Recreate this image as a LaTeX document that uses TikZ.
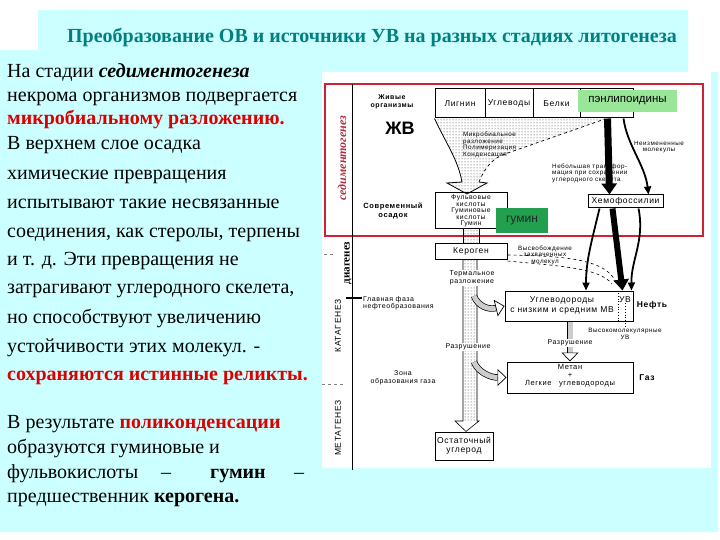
\documentclass[tikz,border=0pt]{standalone}
\usepackage{fontspec}
\setmainfont{Liberation Serif}
\setsansfont{Liberation Sans}
\newfontfamily\dgfont[LetterSpace=8]{Liberation Sans}
\usetikzlibrary{arrows.meta,patterns,calc}
\definecolor{slidecyan}{HTML}{CCFFFF}
\definecolor{titleteal}{HTML}{008080}
\definecolor{hotred}{HTML}{DD0000}
\definecolor{frame}{HTML}{CC2233}
\definecolor{sedred}{HTML}{B03040}
\definecolor{palegreen}{HTML}{99E699}
\definecolor{deepgreen}{HTML}{22A050}
\tikzset{
  body/.style={anchor=base west, inner sep=0pt, font=\fontsize{20}{22}\selectfont},
  cell/.style={draw, line width=1pt, inner sep=0pt, align=center, font=\dgfont\fontsize{8.5}{9}\selectfont},
  lbl/.style={inner sep=0pt, align=center, font=\dgfont\fontsize{7}{7.5}\selectfont},
  tiny/.style={inner sep=0pt, align=center, font=\dgfont\fontsize{6.3}{6.6}\selectfont},
  stage/.style={inner sep=0.5pt, rotate=90, font=\dgfont\fontsize{8.5}{9}\selectfont},
  stipple/.style={pattern=dots, pattern color=black!80},
  hollow/.style={double=black!20, double distance=5pt, line width=0.7pt,
    -{Triangle[open, width=17pt, length=9pt, line width=0.7pt]}},
  bigtip/.style={-{Triangle[width=15pt, length=11pt]}},
  thin/.style={line width=1.8pt, -{Triangle[width=7pt, length=8pt]}}
}
\begin{document}
\begin{tikzpicture}[x=1pt, y=-1pt]
  \useasboundingbox (0,0) rectangle (720,540);
  \fill[slidecyan] (38,10) -- (688,10) -- (688,72) -- (718,72) -- (718,532)
    -- (0,532) -- (0,50) -- (38,50) -- cycle;
  \fill[white] (322,72) rectangle (711,468);

  \node[font=\bfseries\fontsize{20}{22}\selectfont, text=titleteal] (title) at (372,37)
    {Преобразование ОВ и источники УВ на разных стадиях литогенеза};

  \node[body] (t1) at (7,78) {На стадии \textbf{\textit{седиментогенеза}}};
  \node[body] (t2) at (7,102) {некрома организмов подвергается};
  \node[body, text=hotred] (t3) at (7,125) {\textbf{микробиальному разложению.}};
  \node[body] (t4) at (7,150) {В верхнем слое осадка};
  \node[body] (t5) at (7,180) {химические превращения};
  \node[body] (t6) at (7,208) {испытывают такие несвязанные};
  \node[body] (t7) at (7,237) {соединения, как стеролы, терпены};
  \node[body] (t8) at (7,265) {и т. д. Эти превращения не};
  \node[body] (t9) at (7,293) {затрагивают углеродного скелета,};
  \node[body] (t10) at (7,323) {но способствуют увеличению};
  \node[body] (t11) at (7,352) {устойчивости этих молекул. -};
  \node[body, text=hotred] (t12) at (7,380) {\textbf{сохраняются истинные реликты.}};
  \node[body] (b1) at (7,428) {В результате \textcolor{hotred}{\textbf{поликонденсации}}};
  \node[body] (b2) at (7,453) {образуются гуминовые и};
  \node[body] (b3) at (7,478) {фульвокислоты};
  \node[body] (b3a) at (161,478) {–};
  \node[body] (b3b) at (210,478) {\textbf{гумин}};
  \node[body] (b3c) at (294,478) {–};
  \node[body] (b4) at (7,502) {предшественник \textbf{керогена.}};

  \draw[frame, line width=2.5pt] (325,84) rectangle (703,236);
  \draw[line width=1pt] (352,84) -- (352,470);
  \draw[line width=1.6pt] (346,298) -- (362,298);
  \draw[gray, dashed] (324,254) -- (333,254);
  \draw[gray, dashed] (322,384) -- (343,384);
  \node[rotate=90, inner sep=0pt, text=sedred, font=\bfseries\itshape\fontsize{12}{13}\selectfont] (sed) at (342,158) {седиментогенез};
  \node[rotate=90, inner sep=0.5pt, fill=white, font=\bfseries\fontsize{11}{12}\selectfont] (dia) at (348,263) {диагенез};
  \node[stage] (kat) at (338,326) {КАТАГЕНЕЗ};
  \node[stage] (met) at (338,428) {МЕТАГЕНЕЗ};

  \node[cell, minimum width=50pt, minimum height=29pt] (lig) at (460,103.5) {Лигнин};
  \node[cell, minimum width=48pt, minimum height=29pt] (ugl) at (509,103.5) {Углеводы};
  \node[cell, minimum width=47pt, minimum height=29pt] (bel) at (556.5,103.5) {Белки};
  \node[cell, minimum width=53pt, minimum height=29pt] (lip) at (606.5,103.5) {};
  \node[fill=palegreen, minimum width=99pt, minimum height=22pt, inner sep=0pt,
    font=\sffamily\fontsize{11.5}{12}\selectfont] (pen) at (627.5,101) {пэнлипоидины};

  \node[lbl, font=\dgfont\bfseries\fontsize{7}{8}\selectfont] (zhiv) at (392,101.5) {Живые\\организмы};
  \node[font=\sffamily\bfseries\fontsize{18}{20}\selectfont, inner sep=0pt] (zhv) at (400,128) {ЖВ};
  \node[lbl, font=\dgfont\bfseries\fontsize{7.5}{8.5}\selectfont] (osad) at (393,211) {Современный\\осадок};

  \fill[stipple] (lig.south west) .. controls (447,145) and (458,160) .. (462,182)
    -- (447,183) -- (467,194) -- (487,183) -- (479,182)
    .. controls (486,165) and (494,158) .. (505,154) -- (605,119) -- cycle;
  \draw[line width=0.8pt] (lig.south west) .. controls (447,145) and (458,160) .. (462,182)
    -- (447,183) -- (467,194) -- (487,183) -- (479,182);
  \draw[dashed, line width=0.7pt] (479,182) .. controls (486,165) and (494,158) .. (505,154) -- (605,119);
  \node[tiny, align=left, anchor=west] (mikro) at (463,145)
    {Микробиальное\\разложение\\Полимеризация\\Конденсация};

  \node[cell, minimum width=72pt, minimum height=36pt, font=\dgfont\fontsize{6.8}{6.6}\selectfont] (fulvo) at (471,211)
    {Фульвовые\\кислоты\\Гуминовые\\кислоты\\Гумин\hspace{15pt}};
  \node[fill=deepgreen, minimum width=52pt, minimum height=25pt, inner sep=0pt, text=black!85,
    font=\sffamily\fontsize{12}{13}\selectfont] (gumin) at (522,220.5) {гумин};
  \node[cell, minimum width=72pt, minimum height=16pt] (kerogen) at (471,251) {Кероген};
  \node[cell, minimum width=75pt, minimum height=13pt] (hem) at (625.5,201.5) {Хемофоссилии};
  \node[cell, minimum width=128pt, minimum height=30pt] (hc) at (569,306) {};
  \node[cell, minimum width=126pt, minimum height=31pt] (metan) at (570,377.5) {};
  \node[cell, minimum width=58pt, minimum height=28pt] (rest) at (464,446) {Остаточный\\углерод};

  \node[lbl, font=\dgfont\fontsize{8.5}{10.5}\selectfont] (hctext) at (562,305.5) {Углеводороды\\с низким и средним МВ};
  \draw[dotted, line width=0.7pt] ($(hc.north east)+(-15,0)$) -- ($(hc.south east)+(-15,0)$);
  \node[cell, draw=none] (uv) at (625,300) {УВ};
  \node[lbl, font=\dgfont\fontsize{7.5}{8}\selectfont] (mettext) at (570,376)
    {Метан\\+\\Легкие\quad углеводороды};
  \node[inner sep=0pt, font=\dgfont\bfseries\fontsize{8.5}{9}\selectfont] (neft) at (652,305) {Нефть};
  \node[inner sep=0pt, font=\dgfont\bfseries\fontsize{8.5}{9}\selectfont] (gaz) at (647,378) {Газ};
  \node[tiny] (vysok) at (625,334) {Высокомолекулярные\\УВ};
  \draw[dotted, line width=0.8pt] (uv.south) -- (vysok.north);

  \node[tiny] (neizm) at (659,147) {Неизмененные\\молекулы};
  \node[tiny, align=left, anchor=west] (nebol) at (552,173)
    {Небольшая трансфор-\\мация при сохранении\\углеродного скелета};
  \node[tiny] (vysv) at (545,255) {Высвобождение\\захваченных\\молекул};
  \node[lbl, align=left, anchor=west] (glav) at (363,303) {Главная фаза\\нефтеобразования};
  \node[lbl] (zona) at (403,378) {Зона\\образования газа};

  \draw[line width=7pt, bigtip] ($(lip.south west)+(28,0)$) -- ($(hem.north west)+(22,0)$);
  \draw[thin] ($(lip.south)+(17,0)$) .. controls (627,145) and (645,165) .. ($(hem.north east)+(-15,0)$);
  \draw[thin] ($(hem.south west)+(12,0)$) .. controls (592,240) and (586,260) .. ($(hc.north)+(17,0)$);
  \draw[line width=6pt, bigtip] ($(hem.south west)+(25,0)$) -- ($(hc.north east)+(-11,0)$);
  \draw[thin] ($(hem.south east)+(-25,0)$) .. controls (645,240) and (631,260) .. ($(hc.north east)+(-2,0)$);
  \draw[dashed, line width=0.6pt] ($(kerogen.east)+(0,4)$) .. controls (560,256) and (605,258) .. (616,282);
  \draw[dashed, line width=0.6pt] ($(kerogen.east)+(0,10)$) .. controls (560,266) and (600,268) .. (612,284);

  \fill[stipple] ($(fulvo.south)+(-8,0)$) rectangle ($(kerogen.north)+(8,0)$);
  \draw[line width=0.5pt] ($(fulvo.south)+(-8,0)$) -- ($(kerogen.north)+(-8,0)$);
  \draw[line width=0.5pt] ($(fulvo.south)+(8,0)$) -- ($(kerogen.north)+(8,0)$);
  \fill[stipple] ($(kerogen.south)+(-8,0)$) rectangle (477,421);
  \draw[line width=0.6pt] ($(kerogen.south)+(-8,0)$) -- (463,421) -- (455,421)
    -- ($(rest.north)+(2,0)$) -- (479,421) -- (477,421) -- ($(kerogen.south)+(6,0)$);
  \draw[hollow] (474,296) .. controls (478,306) and (488,310) .. (hc.west);
  \draw[hollow] (474,362) .. controls (478,372) and (490,377.5) .. (metan.west);
  \node[lbl, fill=white, inner sep=1pt] (term) at (472,278) {Термальное\\разложение};
  \node[lbl, fill=white, inner sep=1pt] (razr1) at (468,347) {Разрушение};
  \draw[hollow] ($(hc.south)+(1,0)$) -- ($(metan.north)+(0,0)$);
  \node[lbl, fill=white, inner sep=1pt] (razr2) at (570,343) {Разрушение};
\end{tikzpicture}
\end{document}
